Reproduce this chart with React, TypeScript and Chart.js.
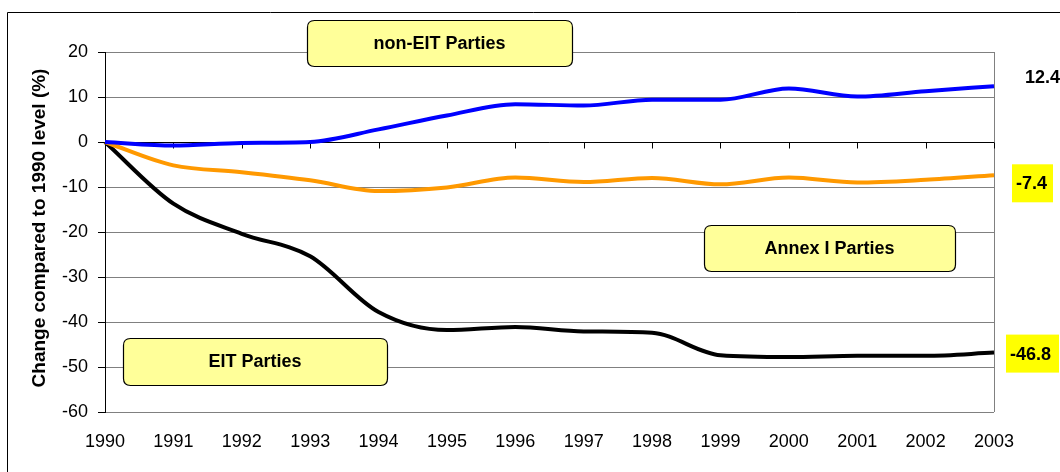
import React, { useEffect, useRef } from "react";
import { Chart, registerables } from "chart.js";

Chart.register(...registerables);

const years = ["1990", "1991", "1992", "1993", "1994", "1995", "1996", "1997", "1998", "1999", "2000", "2001", "2002", "2003"];
const nonEIT = [0, -0.8, -0.2, 0, 2.8, 5.9, 8.4, 8.1, 9.4, 9.4, 11.9, 10.1, 11.3, 12.4];
const annexI = [0, -5.2, -6.7, -8.5, -10.9, -10.1, -7.9, -8.9, -8.0, -9.4, -7.9, -9.0, -8.4, -7.4];
const eit = [0, -13.7, -20.4, -25.4, -37.8, -41.8, -41.1, -42.1, -42.4, -47.4, -47.8, -47.5, -47.5, -46.8];
const yTicks = [20, 10, 0, -10, -20, -30, -40, -50, -60];

const FONT = '"Liberation Sans", Arial, sans-serif';

function roundRect(ctx: CanvasRenderingContext2D, x: number, y: number, w: number, h: number, r: number) {
  ctx.beginPath();
  ctx.moveTo(x + r, y);
  ctx.lineTo(x + w - r, y);
  ctx.quadraticCurveTo(x + w, y, x + w, y + r);
  ctx.lineTo(x + w, y + h - r);
  ctx.quadraticCurveTo(x + w, y + h, x + w - r, y + h);
  ctx.lineTo(x + r, y + h);
  ctx.quadraticCurveTo(x, y + h, x, y + h - r);
  ctx.lineTo(x, y + r);
  ctx.quadraticCurveTo(x, y, x + r, y);
  ctx.closePath();
}

const decor = {
  id: "decor",
  beforeDraw(chart: any) {
    const ctx = chart.ctx as CanvasRenderingContext2D;
    ctx.save();
    ctx.fillStyle = "#fff";
    ctx.fillRect(0, 0, chart.width, chart.height);
    ctx.strokeStyle = "#000";
    ctx.lineWidth = 1;
    ctx.beginPath();
    ctx.moveTo(7.5, 472);
    ctx.lineTo(7.5, 12.5);
    ctx.lineTo(1060, 12.5);
    ctx.stroke();
    ctx.restore();
  },
  beforeDatasetsDraw(chart: any) {
    const ctx = chart.ctx as CanvasRenderingContext2D;
    const a = chart.chartArea;
    const xs = chart.scales.x;
    const ys = chart.scales.y;
    ctx.save();
    ctx.strokeStyle = "#808080";
    ctx.lineWidth = 1;
    ctx.beginPath();
    ctx.moveTo(Math.round(a.right) + 0.5, a.top);
    ctx.lineTo(Math.round(a.right) + 0.5, a.bottom);
    ctx.stroke();
    const y0 = Math.round(ys.getPixelForValue(0)) + 0.5;
    ctx.strokeStyle = "#000";
    ctx.beginPath();
    ctx.moveTo(a.left, y0);
    ctx.lineTo(a.right, y0);
    for (let i = 0; i < years.length; i++) {
      const px = Math.round(xs.getPixelForValue(i)) + 0.5;
      ctx.moveTo(px, y0);
      ctx.lineTo(px, y0 + 6);
    }
    ctx.stroke();
    ctx.restore();
  },
  afterDraw(chart: any) {
    const ctx = chart.ctx as CanvasRenderingContext2D;
    const ys = chart.scales.y;
    ctx.save();
    ctx.save();
    ctx.translate(40, 228);
    ctx.rotate(-Math.PI / 2);
    ctx.fillStyle = "#000";
    ctx.font = `bold 19px ${FONT}`;
    ctx.textAlign = "center";
    ctx.textBaseline = "middle";
    ctx.fillText("Change compared to 1990 level (%)", 0, 0);
    ctx.restore();

    const box = (x: number, y: number, w: number, h: number, text: string) => {
      roundRect(ctx, x + 0.5, y + 0.5, w, h, 7);
      ctx.fillStyle = "#FFFF99";
      ctx.fill();
      ctx.strokeStyle = "#000";
      ctx.lineWidth = 1.2;
      ctx.stroke();
      ctx.fillStyle = "#000";
      ctx.font = `bold 18px ${FONT}`;
      ctx.textAlign = "center";
      ctx.textBaseline = "middle";
      ctx.fillText(text, x + w / 2, y + h / 2 + 1);
    };
    box(307, 20, 265, 46, "non-EIT Parties");
    box(704, 225, 251, 46, "Annex I Parties");
    box(123, 338, 264, 47, "EIT Parties");

    ctx.font = `bold 18px ${FONT}`;
    ctx.textAlign = "left";
    ctx.textBaseline = "middle";
    const yb = ys.getPixelForValue(nonEIT[nonEIT.length - 1]) - 8;
    ctx.fillStyle = "#000";
    ctx.fillText(String(nonEIT[nonEIT.length - 1]), 1025, yb);

    const ya = ys.getPixelForValue(annexI[annexI.length - 1]) + 8;
    ctx.fillStyle = "#FFFF00";
    ctx.fillRect(1012, ya - 19, 41, 38);
    ctx.fillStyle = "#000";
    ctx.fillText(String(annexI[annexI.length - 1]), 1016, ya + 1);

    const ye = ys.getPixelForValue(eit[eit.length - 1]) + 1;
    ctx.fillStyle = "#FFFF00";
    ctx.fillRect(1006, ye - 19, 53, 38);
    ctx.fillStyle = "#000";
    ctx.fillText(String(eit[eit.length - 1]), 1010, ye + 1);
    ctx.restore();
  },
};

export default function App() {
  const ref = useRef<HTMLCanvasElement>(null);
  useEffect(() => {
    document.body.style.margin = "0";
    const canvas = ref.current!;
    const common = { borderWidth: 4, pointRadius: 0, cubicInterpolationMode: "monotone" as const };
    const chart = new Chart(canvas, {
      type: "line",
      data: {
        labels: years,
        datasets: [
          { label: "non-EIT Parties", data: nonEIT, borderColor: "#0000FF", ...common },
          { label: "Annex I Parties", data: annexI, borderColor: "#FF9900", ...common },
          { label: "EIT Parties", data: eit, borderColor: "#000000", ...common },
        ],
      },
      options: {
        responsive: false,
        animation: false,
        devicePixelRatio: 1,
        layout: { padding: { left: 0, top: 52, right: 66, bottom: 0 } },
        plugins: { legend: { display: false }, tooltip: { enabled: false } },
        scales: {
          x: {
            type: "category",
            offset: false,
            grid: { display: false, drawTicks: false },
            border: { display: false },
            ticks: { color: "#000", font: { family: FONT, size: 18 }, padding: 19, maxRotation: 0, autoSkip: false },
            afterFit: (s: any) => { s.height = 60; },
          },
          y: {
            min: -60,
            max: 20,
            afterBuildTicks: (s: any) => { s.ticks = yTicks.map((v) => ({ value: v })); },
            grid: { color: "#808080", lineWidth: 1, tickLength: 7, tickColor: "#000" },
            border: { display: true, color: "#000", width: 1 },
            ticks: { color: "#000", font: { family: FONT, size: 18 }, padding: 10 },
            afterFit: (s: any) => { s.width = 105; },
          },
        },
      },
      plugins: [decor],
    });
    return () => chart.destroy();
  }, []);
  return (
    <div style={{ position: "absolute", left: 0, top: 0, width: 1060, height: 472 }}>
      <canvas ref={ref} width={1060} height={472} />
    </div>
  );
}
